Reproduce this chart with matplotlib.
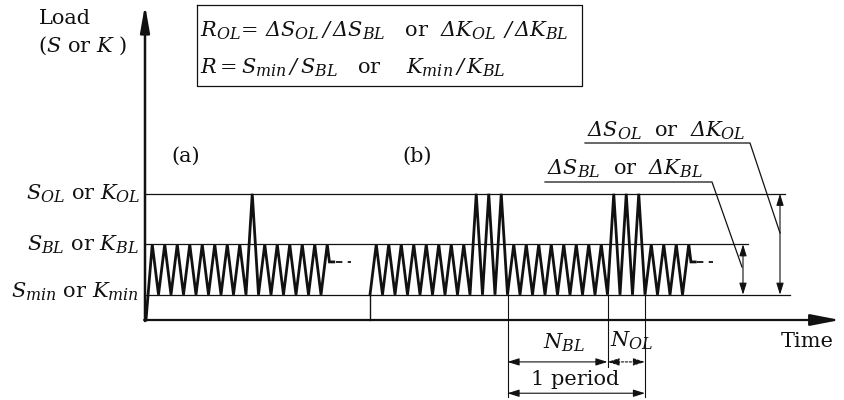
import matplotlib
matplotlib.use("Agg")
import matplotlib.pyplot as plt
import matplotlib.transforms as mtransforms
import matplotlib._mathtext as mathtext_internal

plt.rcParams["font.family"] = ["DejaVu Serif"]
plt.rcParams["mathtext.fontset"] = "custom"
# upright math font set to italic too, so the Greek capital Delta is slanted
plt.rcParams["mathtext.rm"] = "DejaVu Serif:italic"
plt.rcParams["mathtext.it"] = "DejaVu Serif:italic"
plt.rcParams["mathtext.bf"] = "DejaVu Serif:bold"
if hasattr(mathtext_internal, "SHRINK_FACTOR"):
    mathtext_internal.SHRINK_FACTOR = 0.76   # slightly larger subscripts

# load levels (load units, x-axis = 0)
LEVEL_MIN = 0.5
LEVEL_BL = 1.5
LEVEL_OL = 2.5

# block sequences: (level, number of cycles)
seq_a = [(LEVEL_BL, 8), (LEVEL_OL, 1), (LEVEL_BL, 6)]
seq_b = [(LEVEL_BL, 8), (LEVEL_OL, 3), (LEVEL_BL, 8), (LEVEL_OL, 3), (LEVEL_BL, 4)]
start_a = 0.08     # cycles from the load axis
start_b = 18.0
n_bl, n_ol = 8, 3  # one period of (b)

W, H = 845, 400
fig = plt.figure(figsize=(W / 100, H / 100), dpi=100)
ax = fig.add_axes([0, 0, 1, 1])
# x in cycles (12.5 px each, origin at px 145), y in load units (50.5 px each, origin px 320)
ax.set_xlim(-145 / 12.5, (W - 145) / 12.5)
ax.set_ylim((320 - H) / 50.5, 320 / 50.5)
ax.axis("off")

# pixel transform for labels
pix = mtransforms.Affine2D().scale(1 / W, -1 / H).translate(0, 1) + fig.transFigure


def wave(start, seq, y0):
    xs, ys = [start], [y0]
    t = start
    for k, (lev, n) in enumerate(seq):
        for i in range(n):
            last = k == len(seq) - 1 and i == n - 1
            xs.append(t + 0.5); ys.append(lev)
            if last:
                mid = 1.15
                xs.append(t + 0.5 + 0.5 * (lev - mid) / (lev - LEVEL_MIN)); ys.append(mid)
                xs.append(xs[-1] + 0.35); ys.append(mid)
            else:
                xs.append(t + 1); ys.append(LEVEL_MIN)
            t += 1
    return xs, ys


c = "#111111"
# level lines
ax.plot([0, 51.2], [LEVEL_OL] * 2, color=c, lw=0.9)
ax.plot([0, 48.2], [LEVEL_BL] * 2, color=c, lw=0.9)
ax.plot([0, 51.6], [LEVEL_MIN] * 2, color=c, lw=0.9)

for st, seq, y0 in [(start_a, seq_a, 0), (start_b, seq_b, LEVEL_MIN)]:
    xs, ys = wave(st, seq, y0)
    ax.plot(xs, ys, color=c, lw=2.0, solid_joinstyle="miter")
    ax.plot([xs[-1] + 0.15, xs[-1] + 1.4], [ys[-1]] * 2, color=c, lw=1.3,
            dashes=(3.5, 3))
ax.plot([start_b, start_b], [0, LEVEL_MIN], color=c, lw=1.0)

# axes with arrows
ax.annotate("", xy=(0, 6.24), xytext=(0, -0.02),
            arrowprops=dict(arrowstyle="-|>,head_length=1.6,head_width=0.28",
                            color=c, lw=1.8, shrinkA=0, shrinkB=0))
ax.annotate("", xy=(55.6, 0), xytext=(-0.07, 0),
            arrowprops=dict(arrowstyle="-|>,head_length=1.8,head_width=0.35",
                            color=c, lw=1.6, shrinkA=0, shrinkB=0))

# period markers
p0 = start_b + n_bl + n_ol
p1 = p0 + n_bl
p2 = p1 + n_ol
for x, yb in [(p0, -1.53), (p1, -0.93), (p2, -1.53)]:
    ax.plot([x, x], [LEVEL_MIN, yb], color=c, lw=0.8)
dim = dict(arrowstyle="<|-|>,head_length=0.7,head_width=0.22", color=c, lw=0.8,
           shrinkA=0, shrinkB=0)
ax.annotate("", xy=(p0, -0.83), xytext=(p1, -0.83), arrowprops=dim)
ax.annotate("", xy=(p1, -0.83), xytext=(p2, -0.83),
            arrowprops=dict(dim, linestyle=(0, (2, 1.5))))
ax.annotate("", xy=(p0, -1.45), xytext=(p2, -1.45), arrowprops=dim)

# range arrows
ax.annotate("", xy=(47.84, LEVEL_BL), xytext=(47.84, LEVEL_MIN), arrowprops=dim)
ax.annotate("", xy=(50.8, LEVEL_OL), xytext=(50.8, LEVEL_MIN), arrowprops=dim)

# leader lines (pixels)
ax.plot([545, 712, 742], [182, 182, 267], color=c, lw=0.9, transform=pix)
ax.plot([585, 750, 780], [143, 143, 233], color=c, lw=0.9, transform=pix)

# formula box
ax.plot([197, 582, 582, 197, 197], [5, 5, 86, 86, 5], color=c, lw=0.9, transform=pix)

fs = 15
kw = dict(transform=pix, fontsize=fs, color=c, va="baseline")
D = r"{\Delta}"
ax.text(200, 37, rf"$R_{{OL}}\!=\,{D}S_{{OL}}\,/\,{D}S_{{BL}}$   or  "
        rf"${D}K_{{OL}}\;\,/\,{D}K_{{BL}}$", ha="left", **kw)
ax.text(200, 74, r"$R=S_{min}\,/\,S_{BL}$   or    $K_{min}\,/\,K_{BL}$",
        ha="left", **kw)

ax.text(65, 24, "Load", ha="center", **kw)
ax.text(82, 52, r"($S$ or $K$ )", ha="center", **kw)
ax.text(186, 162, "(a)", ha="center", **kw)
ax.text(417, 162, "(b)", ha="center", **kw)
ax.text(140, 200, r"$S_{OL}$ or $K_{OL}$", ha="right", **kw)
ax.text(139, 251, r"$S_{BL}$ or $K_{BL}$", ha="right", **kw)
ax.text(139, 298, r"$S_{min}$ or $K_{min}$", ha="right", **kw)
ax.text(587, 137, rf"${D}S_{{OL}}$  or  ${D}K_{{OL}}$", ha="left", **kw)
ax.text(547, 175, rf"${D}S_{{BL}}$  or  ${D}K_{{BL}}$", ha="left", **kw)
ax.text(543, 349, r"$N_{BL}$", ha="left", **kw)
ax.text(610, 347, r"$N_{OL}$", ha="left", **kw)
ax.text(575, 385, "1 period", ha="center", **kw)
ax.text(807, 347, "Time", ha="center", **kw)

fig.savefig("out.png", dpi=100)
